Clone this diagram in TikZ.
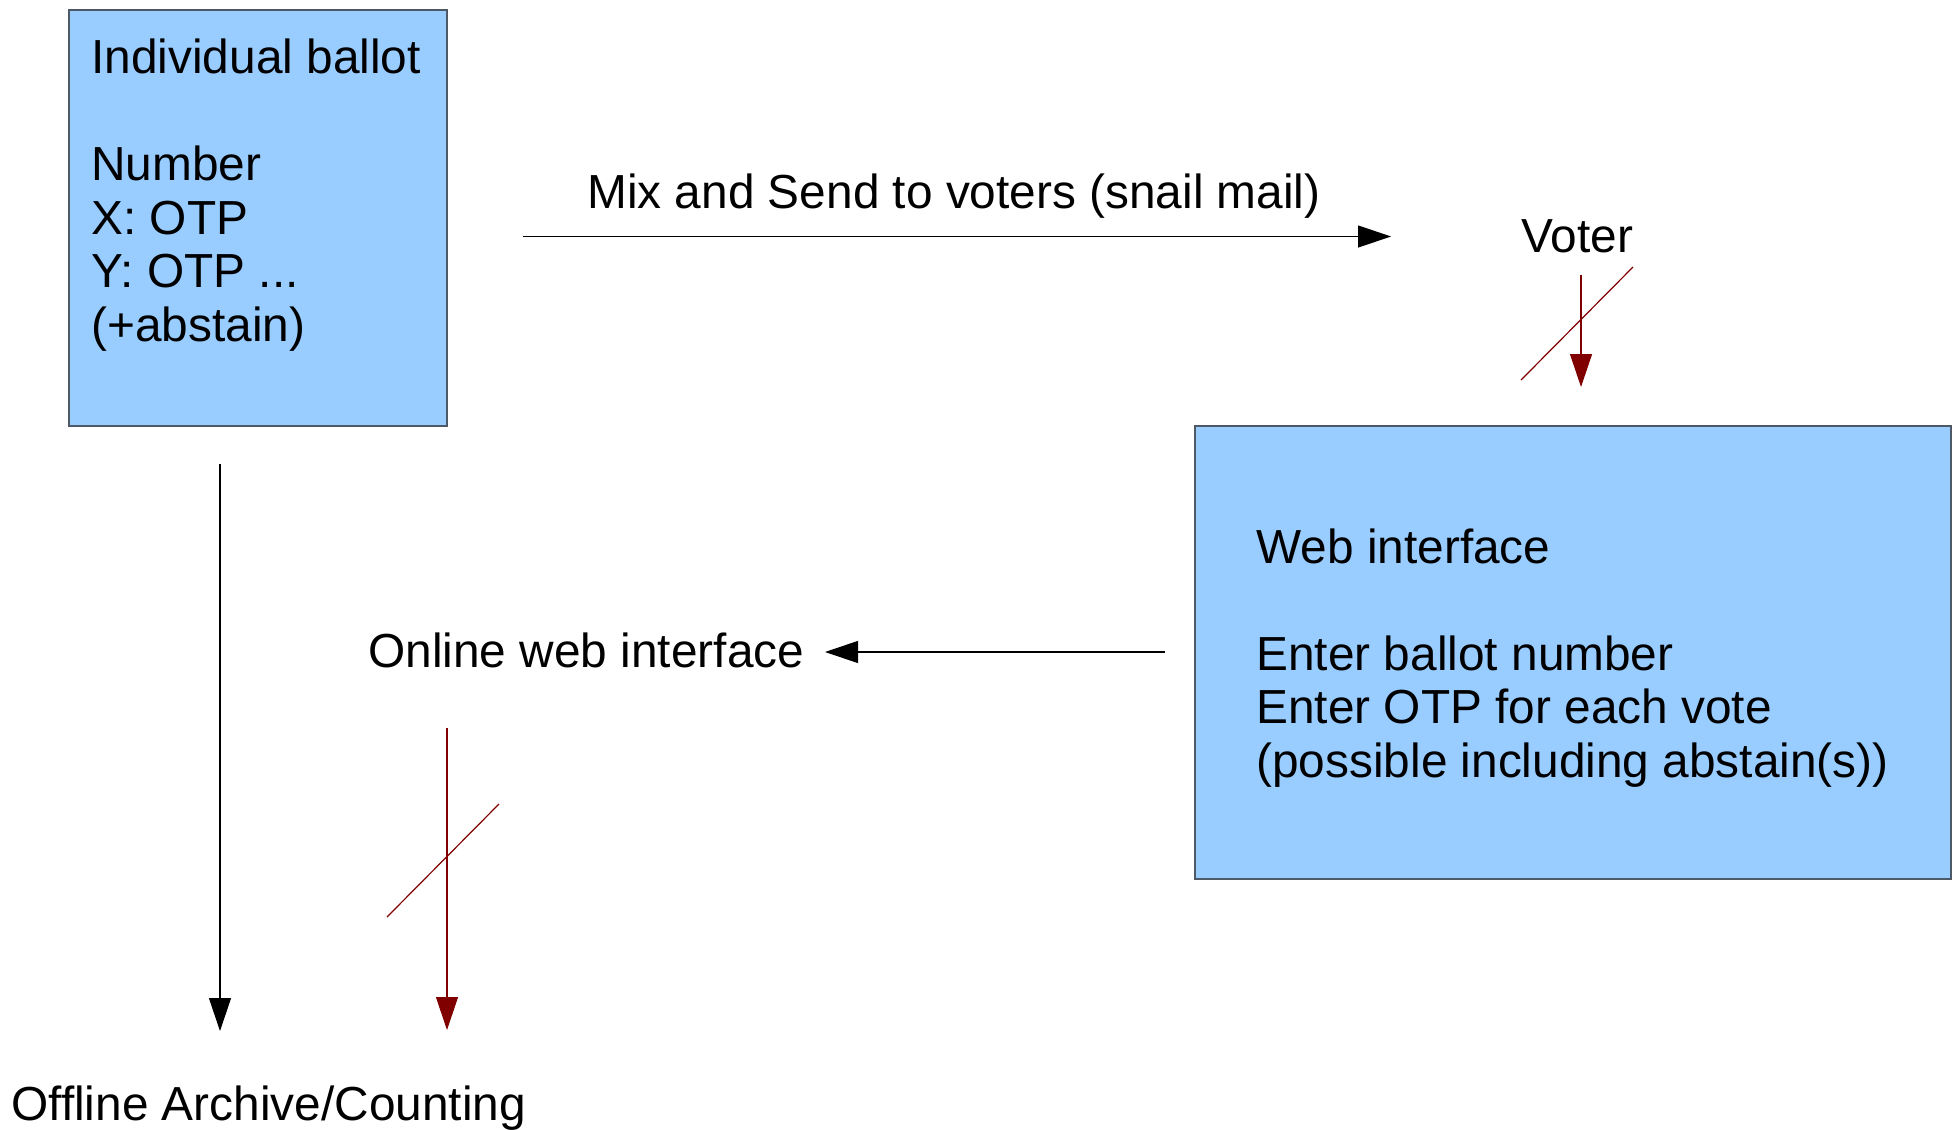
\documentclass[tikz,border=0pt]{standalone}
\usepackage{fontspec}
\setmainfont{Liberation Sans}
\usetikzlibrary{arrows.meta}
\definecolor{boxblue}{HTML}{99CCFF}
\definecolor{boxline}{HTML}{4D5A66}
\definecolor{darkred}{HTML}{800000}
\begin{document}
\begin{tikzpicture}[x=0.5pt,y=-0.5pt,
  every node/.style={inner sep=0pt, font=\fontsize{23.9}{26.75}\selectfont},
  panel/.style={draw=boxline, line width=0.75pt, fill=boxblue},
  lbl/.style={anchor=base west, align=left},
  arr/.style={-{Triangle[length=16.5pt,width=11pt]}, line width=0.6pt},
  redarr/.style={arr, color=darkred},
  slash/.style={darkred, line width=0.6pt}]
\useasboundingbox (0,0) rectangle (1952,1129);
\node[panel, minimum width=189pt, minimum height=208pt] (ballot) at (258,218) {};
\node[panel, minimum width=378pt, minimum height=226.5pt] (web) at (1573,652.5) {};
\node[lbl] (ballottext) at (91,341) {Individual ballot\\[26.75pt]Number\\X: OTP\\Y: OTP ...\\(+abstain)};
\node[lbl] (webtext) at (1256,777) {Web interface\\[26.75pt]Enter ballot number\\Enter OTP for each vote\\(possible including abstain(s))};
\node[lbl] (mix) at (587,208) {Mix and Send to voters (snail mail)};
\node[lbl] (voter) at (1521,252) {Voter};
\node[lbl] (online) at (368,667) {Online web interface};
\node[lbl] (offline) at (11,1120) {Offline Archive/Counting};
\coordinate (mixstart) at (523,236.5);
\coordinate (mixend) at (1391,236.5);
\coordinate (voterstart) at (1581,275);
\coordinate (voterend) at (1581,387);
\coordinate (webstart) at (1165,652);
\coordinate (webend) at (825,652);
\coordinate (archstart) at (220,464);
\coordinate (archend) at (220,1031);
\coordinate (onlinestart) at (447,728);
\coordinate (onlineend) at (447,1030);
\draw[arr] (mixstart) -- (mixend);
\draw[redarr] (voterstart) -- (voterend);
\draw[slash] (1521,380) -- (1633,267);
\draw[arr] (webstart) -- (webend);
\draw[arr] (archstart) -- (archend);
\draw[redarr] (onlinestart) -- (onlineend);
\draw[slash] (387,917) -- (499,804);
\end{tikzpicture}
\end{document}
